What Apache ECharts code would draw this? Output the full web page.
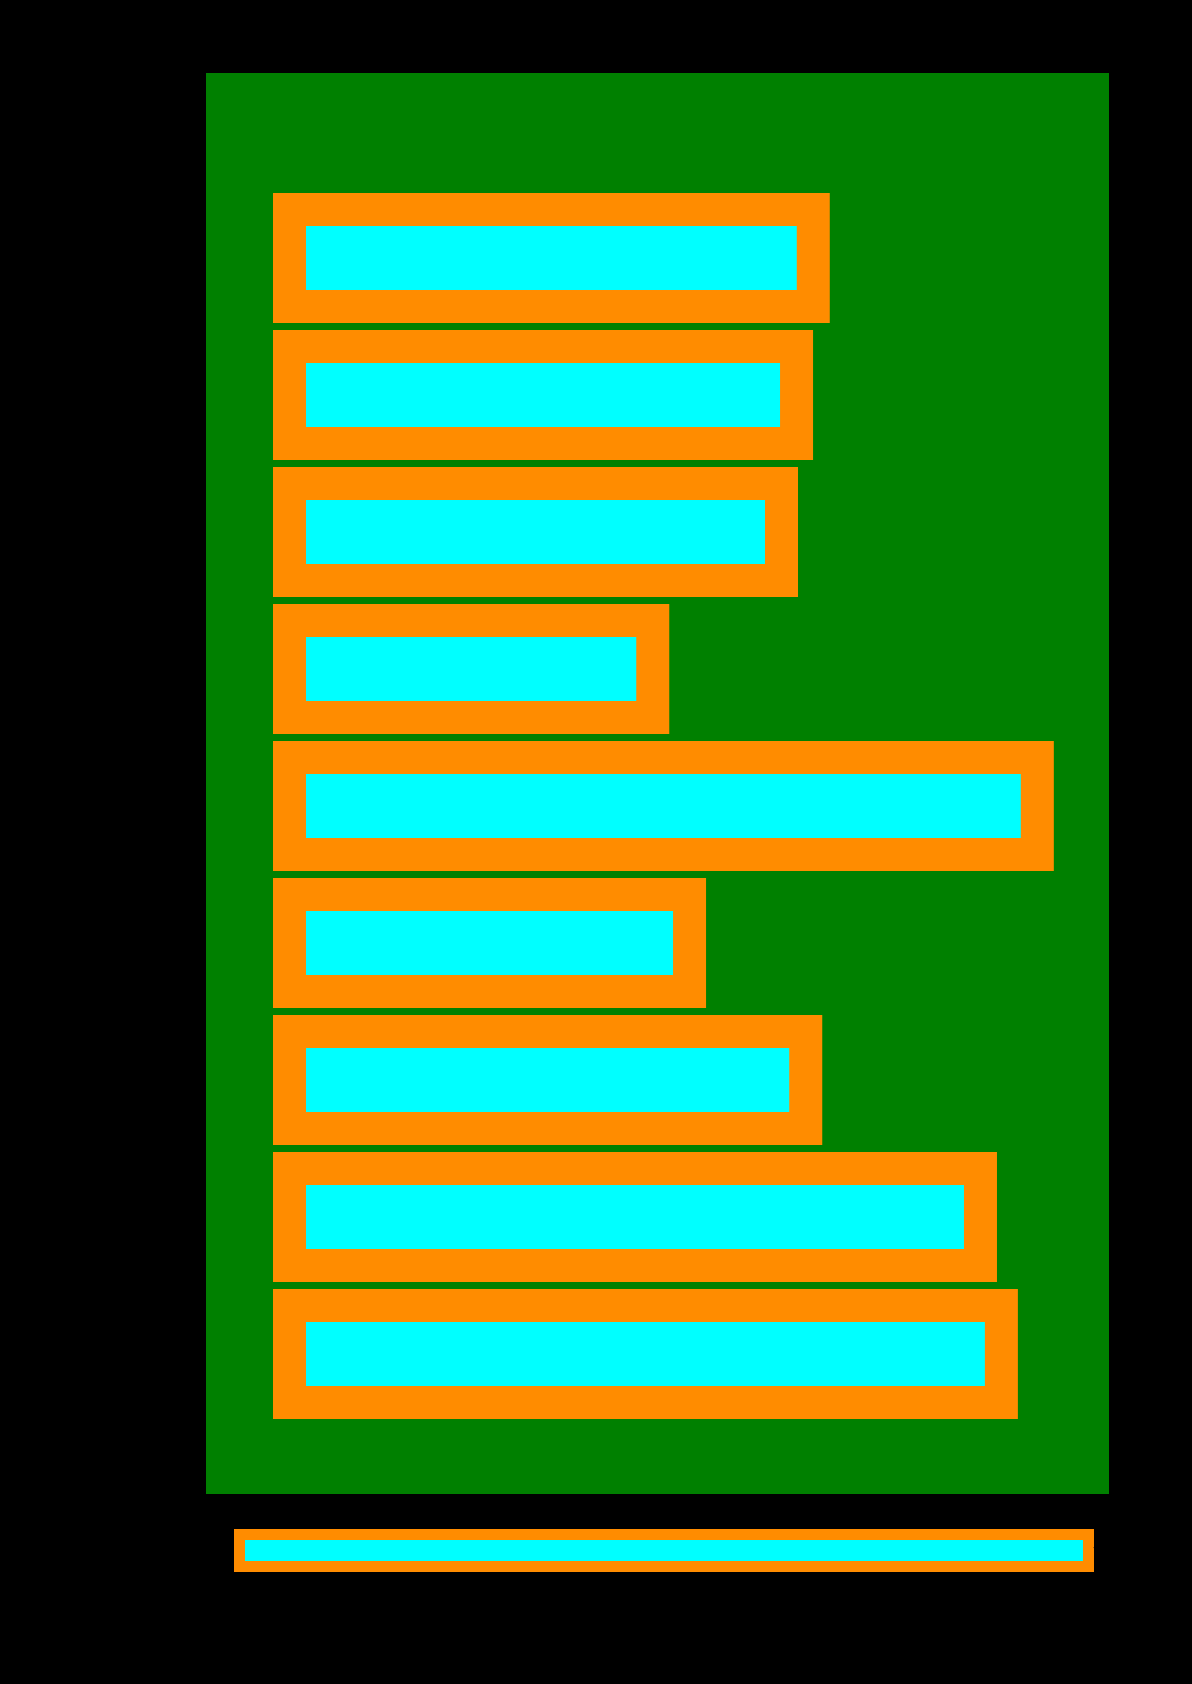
<!DOCTYPE html>
<html>
<head>
<meta charset="utf-8">
<script src="https://cdn.jsdelivr.net/npm/echarts@6/dist/echarts.min.js"></script>
<style>
	html, body { margin: 0; padding: 0; background: #000; }
	#main { width: 1192px; height: 1684px; }
</style>
</head>
<body>
<div id="main"></div>
<script>
// 数据
var categories = ['A', 'B', 'C', 'D', 'E', 'F', 'G', 'H', 'I'];
var values = [66.6, 64.6, 62.8, 47.4, 93.4, 51.8, 65.7, 86.6, 89.1];
var seriesName = 'value';

var myChart = echarts.init(document.getElementById('main'));

var option = {
	backgroundColor: '#000',
	animation: false,
	legend: {
		data: [seriesName],
		left: 234,
		top: 1529,
		padding: 0,
		icon: 'rect',
		itemWidth: 849,
		itemHeight: 32,
		itemStyle: {
			color: 'cyan',
			borderColor: 'darkorange',
			borderWidth: 11
		},
		textStyle: {
			color: '#000'
		}
	},
	grid: [{
		// 绿色背景
		left: 206,
		right: 83,
		top: 73,
		bottom: 190,
		show: true,
		backgroundColor: 'green',
		borderWidth: 0
	}, {
		left: 273,
		right: 83,
		top: 189.5,
		bottom: 261.5
	}],
	xAxis: [{
		gridIndex: 0,
		type: 'value',
		show: false
	}, {
		gridIndex: 1,
		type: 'value',
		min: 0,
		max: 100,
		show: false
	}],
	yAxis: [{
		gridIndex: 0,
		type: 'category',
		data: categories,
		show: false
	}, {
		gridIndex: 1,
		type: 'category',
		data: categories,
		inverse: true,
		show: false
	}],
	series: [{
		name: seriesName,
		type: 'bar',
		xAxisIndex: 1,
		yAxisIndex: 1,
		data: values,
		barCategoryGap: '5%',
		itemStyle: {
			color: 'cyan',
			borderColor: 'darkorange',
			borderWidth: 33
		}
	}]
};
myChart.setOption(option, true);
</script>
</body>
</html>
